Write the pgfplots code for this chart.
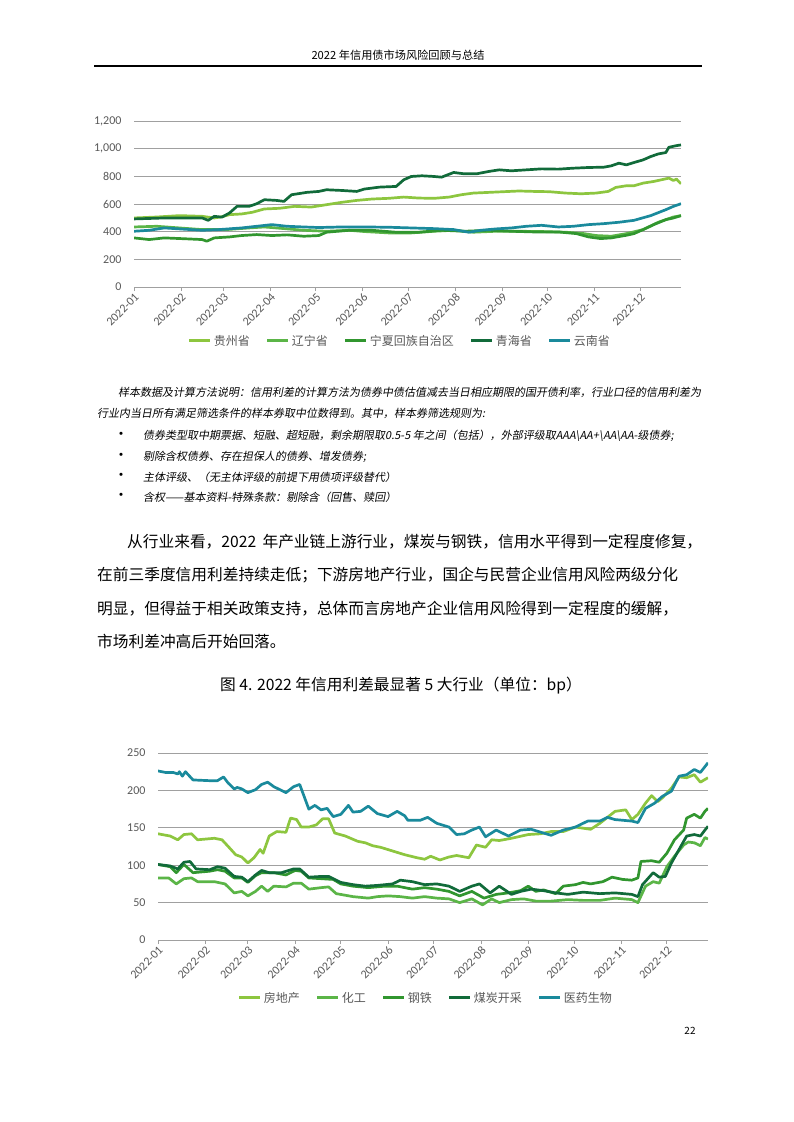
\documentclass[border=0pt]{standalone}
\usepackage{fontspec}
\setmainfont{Noto Sans CJK SC}
\newfontfamily\tickfont{Carlito}
\newfontfamily\notefont[FakeSlant=0.18]{Noto Sans CJK SC}
\usepackage{pgfplots}
\pgfplotsset{compat=1.18}
\XeTeXlinebreaklocale "zh"
\XeTeXlinebreakskip=0pt plus 2pt

\definecolor{cA}{HTML}{8DC63F}
\definecolor{cB}{HTML}{5BB547}
\definecolor{cC}{HTML}{31962F}
\definecolor{cD}{HTML}{116B3A}
\definecolor{cE}{HTML}{1A8A9C}
\definecolor{txtgray}{HTML}{595959}
\definecolor{gridgray}{HTML}{A0A0A0}

\pgfplotsset{
  spread/.style={
    scale only axis,
    axis line style={draw=none},
    xmin=0, xmax=361,
    xtick={0,31,59,90,120,151,181,212,243,273,304,334},
    xticklabels={2022-01,2022-02,2022-03,2022-04,2022-05,2022-06,
                 2022-07,2022-08,2022-09,2022-10,2022-11,2022-12},
    xtick pos=bottom, tick align=outside, major tick length=4pt,
    xtick style={gridgray, line width=0.8pt},
    ytick style={draw=none},
    ymajorgrids,
    major grid style={gridgray, line width=0.9pt},
    tick label style={font=\tickfont\fontsize{12pt}{14pt}\selectfont, text=txtgray},
    /pgf/number format/assume math mode=true,
    xticklabel style={rotate=45, anchor=north east, inner sep=1pt},
    yticklabel style={xshift=-5pt},
    legend columns=5,
    legend style={draw=none, fill=none,
      font=\fontsize{12pt}{14pt}\selectfont\color{txtgray},
      /tikz/every even column/.append style={column sep=14pt}},
    legend image code/.code={\draw[#1, line width=3pt] (2pt,0pt) -- (23pt,0pt);},
    every axis plot/.append style={line width=2.7pt, line join=round},
  },
}
\tikzset{
  body/.style={anchor=west, inner sep=0pt, font=\fontsize{15.7pt}{18pt}\selectfont},
  note/.style={anchor=west, inner sep=0pt, font=\notefont\fontsize{11pt}{13pt}\selectfont},
}

\begin{document}
\begin{tikzpicture}
\fill[white] (0pt,0pt) rectangle (793pt,-1122pt);

% header
\node[font=\fontsize{11.2pt}{13pt}\selectfont] at (398pt,-55pt) {2022 年信用债市场风险回顾与总结};
\draw[line width=1.1pt] (94pt,-66pt) -- (702pt,-66pt);

% chart 1: provinces
\begin{axis}[spread, at={(134pt,-287pt)}, anchor=south west,
  width=547pt, height=166pt,
  ymin=0, ymax=1200, ytick={0,200,...,1200},
  legend style={at={(0.486,-0.325)}, anchor=center}]
\addplot[cA] table {
0 499
15 506
30 516
45 511
53 499
58 508
63 523
71 528
78 540
86 564
96 569
106 583
117 578
127 595
137 612
147 626
157 636
168 641
178 650
188 643
198 641
208 650
216 667
224 679
234 684
244 689
254 694
264 691
274 689
285 679
295 674
305 679
313 691
318 720
325 732
330 732
336 751
343 763
348 775
353 787
356 770
358 780
361 746
};
\addlegendentry{贵州省}
\addplot[cB] table {
0 434
15 439
30 427
45 415
61 415
76 427
86 434
96 425
112 410
127 403
142 410
152 401
168 391
183 391
198 403
211 410
224 396
239 403
254 403
269 401
285 396
297 386
305 372
315 367
325 386
336 415
346 468
356 506
361 516
};
\addlegendentry{辽宁省}
\addplot[cC] table {
0 355
10 343
20 355
35 348
45 343
48 331
53 355
63 362
71 372
81 379
91 372
101 377
112 367
122 372
127 396
142 410
157 410
173 396
188 396
203 410
218 403
234 410
249 403
264 398
280 398
292 386
300 362
308 350
315 355
325 374
330 386
336 415
343 451
351 487
356 499
361 516
};
\addlegendentry{宁夏回族自治区}
\addplot[cD] table {
0 492
20 499
45 499
49 482
53 511
58 505
63 535
68 583
76 583
81 602
86 631
94 626
99 619
104 667
114 684
122 691
127 703
137 698
147 691
152 708
162 722
173 727
178 775
183 799
190 804
198 799
203 794
211 828
218 818
226 818
234 835
241 847
249 840
259 847
269 854
280 852
290 859
300 864
310 866
315 876
320 895
325 883
330 900
336 919
341 943
346 962
351 972
353 1010
358 1022
361 1027
};
\addlegendentry{青海省}
\addplot[cE] table {
0 403
10 410
20 427
30 420
45 410
56 415
71 427
81 439
91 451
101 439
112 434
122 430
137 434
152 434
168 432
183 427
198 422
211 415
221 396
229 410
239 420
249 427
259 439
269 446
280 434
290 439
300 451
310 458
320 468
330 482
341 516
351 559
356 583
361 602
};
\addlegendentry{云南省}
\end{axis}

% notes
\node[note] at (118pt,-392pt) {样本数据及计算方法说明：信用利差的计算方法为债券中债估值减去当日相应期限的国开债利率，行业口径的信用利差为};
\node[note] at (97pt,-413pt) {行业内当日所有满足筛选条件的样本券取中位数得到。其中，样本券筛选规则为:};
\foreach \yy in {436,457,477,497} \node[font=\fontsize{15pt}{16pt}\selectfont, inner sep=0pt] at (121pt,-\yy pt) {•};
\node[note] at (143pt,-436pt) {债券类型取中期票据、短融、超短融，剩余期限取0.5-5 年之间（包括），外部评级取AAA\textbackslash AA+\textbackslash AA\textbackslash AA-级债券;};
\node[note] at (143pt,-457pt) {剔除含权债券、存在担保人的债券、增发债券;};
\node[note] at (143pt,-477pt) {主体评级、（无主体评级的前提下用债项评级替代）};
\node[note] at (143pt,-497pt) {含权——基本资料-特殊条款：剔除含（回售、赎回）};

% paragraph
\node[body] at (127pt,-542pt) {\makebox[575pt][s]{从行业来看，2022 年产业链上游行业，煤炭与钢铁，信用水平得到一定程度修复，}};
\node[body] at (97pt,-575pt) {\makebox[604pt][s]{在前三季度信用利差持续走低；下游房地产行业，国企与民营企业信用风险两级分化}};
\node[body] at (97pt,-609pt) {\makebox[602pt][s]{明显，但得益于相关政策支持，总体而言房地产企业信用风险得到一定程度的缓解，}};
\node[body] at (97pt,-641pt) {市场利差冲高后开始回落。};
\node[font=\fontsize{15.7pt}{18pt}\selectfont] at (401pt,-686pt) {图 4. 2022 年信用利差最显著 5 大行业（单位：bp）};

% chart 2: industries
\begin{axis}[spread, at={(158pt,-940pt)}, anchor=south west,
  width=550pt, height=187pt,
  ymin=0, ymax=250, ytick={0,50,...,250},
  legend style={at={(0.487,-0.31)}, anchor=center}]
\addplot[cA] table {
0 142
8 139
13 134
17 141
22 142
26 134
37 136
42 134
47 123
51 114
55 111
59 103
63 110
67 121
69 116
73 139
78 145
84 144
87 163
91 161
94 151
99 151
104 154
108 162
112 162
116 143
123 139
131 132
136 130
141 126
146 124
154 119
162 114
170 110
175 108
179 112
185 107
191 111
196 113
204 110
209 127
215 124
219 134
224 133
232 136
243 141
251 142
258 145
266 145
274 151
284 148
290 156
295 164
300 172
307 174
311 161
315 168
320 183
324 193
328 185
331 190
337 203
342 218
347 217
352 221
356 211
361 217
};
\addlegendentry{房地产}
\addplot[cB] table {
0 83
7 83
12 75
17 82
22 83
26 78
37 78
44 75
50 63
55 65
59 59
64 65
68 72
72 65
76 72
84 71
89 76
94 76
99 68
107 70
112 71
117 62
128 58
138 56
144 58
151 59
159 58
167 56
175 58
183 56
191 55
198 50
206 55
213 47
219 55
224 50
232 54
240 55
248 52
258 52
269 54
279 53
290 53
300 56
311 54
315 50
320 72
325 78
329 76
334 98
339 112
345 127
348 131
352 130
356 126
359 137
361 135
};
\addlegendentry{化工}
\addplot[cC] table {
0 101
8 98
12 90
17 101
23 90
34 92
39 94
44 92
50 83
55 83
59 77
64 86
68 90
76 90
84 87
90 93
94 92
99 83
107 82
115 81
120 75
128 72
138 70
149 72
157 72
167 68
175 70
183 68
191 65
198 59
206 65
214 56
222 61
230 63
238 66
243 72
248 65
253 67
261 62
266 72
274 74
279 77
284 75
292 78
298 84
305 81
311 80
315 83
317 105
324 106
329 104
334 116
339 134
345 147
347 163
352 168
356 163
359 172
361 176
};
\addlegendentry{钢铁}
\addplot[cD] table {
0 101
8 99
13 95
17 104
21 105
25 95
34 94
39 98
44 96
50 85
55 84
59 78
64 87
68 93
73 90
81 90
89 95
93 95
99 84
107 85
112 85
120 77
128 74
136 72
144 73
154 75
159 80
167 78
175 74
183 75
191 72
198 65
206 72
211 75
218 63
224 72
232 61
238 65
245 68
253 66
261 63
269 61
279 64
290 62
300 63
311 61
315 58
318 74
325 90
329 84
333 85
337 103
342 121
347 139
352 141
356 139
359 147
361 152
};
\addlegendentry{煤炭开采}
\addplot[cE] table {
0 226
5 224
10 224
13 222
14 225
16 219
18 225
23 214
34 213
39 213
43 218
46 210
50 202
52 204
55 202
59 197
64 201
68 208
72 211
76 205
84 197
89 205
93 208
95 197
99 175
103 180
107 174
111 176
115 165
120 168
125 180
128 171
133 172
138 179
144 169
151 165
157 172
162 166
164 160
172 160
177 164
183 156
191 151
196 141
201 142
206 147
211 151
215 138
222 147
230 139
238 147
245 148
253 143
258 140
266 147
274 151
282 159
290 159
295 164
300 161
311 159
315 157
320 176
326 183
331 192
337 199
342 219
347 221
352 228
356 224
361 237
};
\addlegendentry{医药生物}
\end{axis}

\node[font=\fontsize{10pt}{12pt}\selectfont] at (690pt,-1031pt) {22};

\pgfresetboundingbox
\path[use as bounding box] (0pt,0pt) rectangle (793pt,-1122pt);
\end{tikzpicture}
\end{document}
